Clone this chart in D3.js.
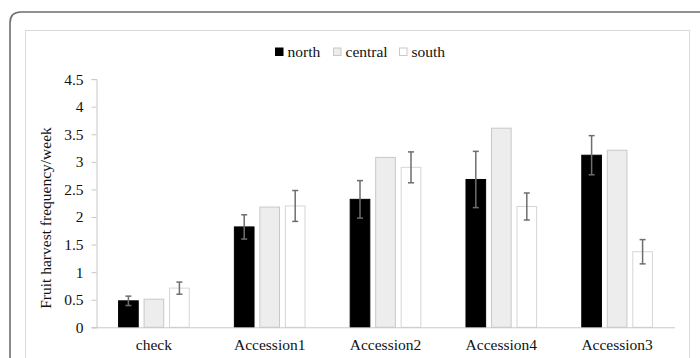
<!DOCTYPE html>
<html><head><meta charset="utf-8">
<script src="https://cdn.jsdelivr.net/npm/d3@7"></script>
<style>html,body{margin:0;padding:0;background:#fff;}svg{display:block;}</style>
</head><body>
<svg id="chart" width="700" height="358"></svg>
<script>
const categories = ["check", "Accession1", "Accession2", "Accession4", "Accession3"];
const seriesNames = ["north", "central", "south"];
const north = [0.48, 1.82, 2.32, 2.68, 3.12];
const central = [0.51, 2.18, 3.08, 3.61, 3.21];
const south = [0.71, 2.20, 2.90, 2.19, 1.37];
const northErr = [0.085, 0.22, 0.34, 0.51, 0.355];
const centralErr = [null, null, null, null, null];
const southErr = [0.11, 0.28, 0.28, 0.245, 0.22];
const yTicks = [0, 0.5, 1, 1.5, 2, 2.5, 3, 3.5, 4, 4.5];
const yLabel = "Fruit harvest frequency/week";

const values = {north, central, south};
const errs = {north: northErr, central: centralErr, south: southErr};
const fills = {north: "#000000", central: "#ededed", south: "#ffffff"};
const strokes = {north: "#000000", central: "#c8c8c8", south: "#d6d6d6"};
const FONT = '"Liberation Serif", "Times New Roman", serif';

const svg = d3.select("#chart");
function styleText(sel) {
  return sel.style("font-family", FONT).style("font-size", "15.5px").style("fill", "#111");
}

// outer border (rounded corner top-left)
svg.append("path")
  .attr("d", "M10,370 L10,23 Q10,12 21,12 L700,12")
  .attr("fill", "none").attr("stroke", "#6e6e6e").attr("stroke-width", 1.6);
// inner chart frame
svg.append("rect").attr("x", 25.5).attr("y", 30.5).attr("width", 664).attr("height", 400)
  .attr("fill", "none").attr("stroke", "#d9d9d9").attr("stroke-width", 1);

const x0 = d3.scaleBand().domain(categories).range([96, 675]);
const x1 = d3.scaleBand().domain(seriesNames).range([0, x0.bandwidth()])
  .paddingInner(0.19).paddingOuter(0.866);
const y = d3.scaleLinear().domain([0, 4.5]).range([327.3, 79.1]);

// y axis
const yAxis = svg.append("g").attr("transform", "translate(96.5,0)")
  .call(d3.axisLeft(y).tickValues(yTicks).tickSize(5).tickPadding(8).tickFormat(d => String(d)));
yAxis.select(".domain").attr("stroke", "#c8c8c8");
yAxis.selectAll(".tick line").attr("stroke", "#c8c8c8");
styleText(yAxis.selectAll(".tick text"));

// bars
const groups = svg.append("g").selectAll("g").data(categories).join("g")
  .attr("transform", d => `translate(${x0(d)},0)`);
seriesNames.forEach(s => {
  groups.append("rect")
    .attr("x", () => x1(s) + 0.5)
    .attr("y", d => y(values[s][categories.indexOf(d)]))
    .attr("width", x1.bandwidth() - 1)
    .attr("height", d => y(0) - y(values[s][categories.indexOf(d)]))
    .attr("fill", fills[s]).attr("stroke", strokes[s]).attr("stroke-width", 1);
});

// error bars
seriesNames.forEach(s => {
  categories.forEach((c, i) => {
    const e = errs[s][i];
    if (e == null) return;
    const cx = x0(c) + x1(s) + x1.bandwidth() / 2;
    const v = values[s][i];
    const g = svg.append("g").attr("stroke", "#6e6e6e").attr("stroke-width", 1.5);
    g.append("line").attr("x1", cx).attr("x2", cx).attr("y1", y(v + e)).attr("y2", y(v - e));
    g.append("line").attr("x1", cx - 3).attr("x2", cx + 3).attr("y1", y(v + e)).attr("y2", y(v + e));
    g.append("line").attr("x1", cx - 3).attr("x2", cx + 3).attr("y1", y(v - e)).attr("y2", y(v - e));
  });
});

// x axis
const xAxis = svg.append("g").attr("transform", `translate(0,${y(0)})`)
  .call(d3.axisBottom(x0).tickSize(0).tickPadding(12));
xAxis.select(".domain").attr("stroke", "#c8c8c8").attr("d", "M92,0.5H675");
styleText(xAxis.selectAll(".tick text"));

// y label
styleText(svg.append("text").attr("transform", "translate(51,218) rotate(-90)")
  .attr("text-anchor", "middle").text(yLabel));

// legend
const legendX = [275.5, 333.5, 399.5];
seriesNames.forEach((s, i) => {
  svg.append("rect").attr("x", legendX[i]).attr("y", 48).attr("width", 7.5).attr("height", 7.5)
    .attr("fill", fills[s]).attr("stroke", s === "north" ? "#000" : "#c8c8c8");
  styleText(svg.append("text").attr("x", legendX[i] + 12).attr("y", 56.5).text(s));
});
</script>
</body></html>
